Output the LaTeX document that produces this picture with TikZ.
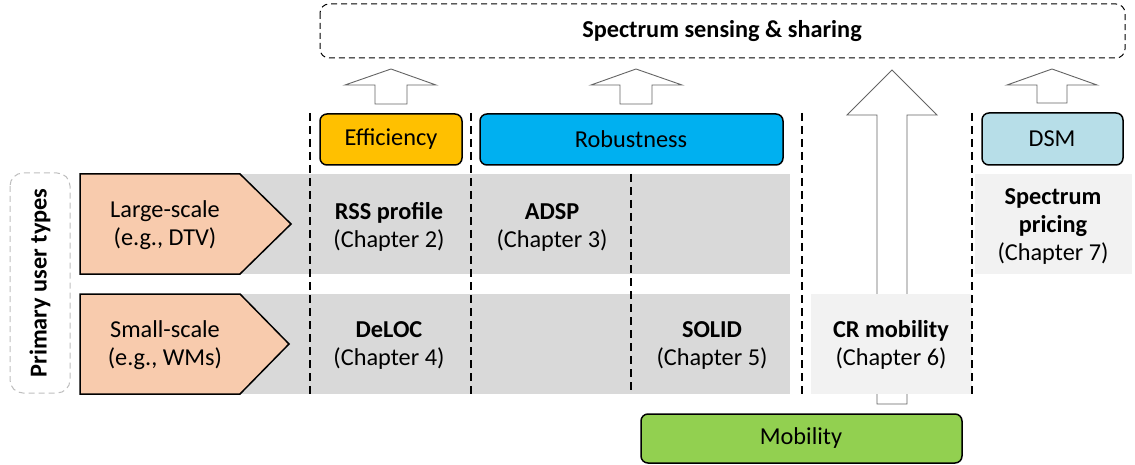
\documentclass[tikz,border=0pt]{standalone}
\usepackage{fontspec}
\setmainfont{Carlito}
\definecolor{bandgray}{RGB}{217,217,217}
\definecolor{lightband}{RGB}{242,242,242}
\definecolor{effcol}{RGB}{255,192,0}
\definecolor{robcol}{RGB}{0,176,240}
\definecolor{dsmcol}{RGB}{183,222,232}
\definecolor{mobcol}{RGB}{146,208,80}
\definecolor{peach}{RGB}{248,203,173}
\definecolor{arrowgray}{RGB}{100,100,100}
\begin{document}
\begin{tikzpicture}[x=1pt,y=-1pt,
  every node/.style={font=\fontsize{24.3}{28}\selectfont, align=center, inner sep=0pt},
  catbox/.style={draw=black, line width=1.5pt, rounded corners=7pt},
  divider/.style={draw=black, line width=1.3pt, dash pattern=on 8pt off 5pt},
  blockarrow/.style={draw=arrowgray, fill=white, line width=0.9pt},
  pentagon/.style={draw=black, line width=1.5pt, fill=peach}]
\useasboundingbox (0,0) rectangle (1135,465);

% top dashed box
\draw[line width=1pt, dash pattern=on 6pt off 4pt, rounded corners=9pt] (320,4) rectangle (1125,58);
\node[font=\fontsize{24.3}{28}\selectfont\bfseries] (top) at (722,31) {Spectrum sensing \& sharing};

% gray bands
\fill[bandgray] (240,174) rectangle (790,274);
\fill[bandgray] (240,294) rectangle (790,394);
\fill[lightband] (975,174) rectangle (1132,274);

% block arrows
\draw[blockarrow] (375,104) -- (375,85) -- (345,85) -- (391,69) -- (436,85) -- (407,85) -- (407,104) -- cycle;
\draw[blockarrow] (620,104) -- (620,85) -- (591,85) -- (636,69) -- (682,85) -- (652,85) -- (652,104) -- cycle;
\draw[blockarrow] (877,404) -- (877,115) -- (847,115) -- (892,70) -- (937,115) -- (907,115) -- (907,404) -- cycle;
\draw[blockarrow] (1037,103) -- (1037,85) -- (1007,85) -- (1052,69) -- (1097,85) -- (1067,85) -- (1067,103) -- cycle;

\fill[lightband] (811,294) rectangle (972,394);

% dividers
\draw[divider] (310,113) -- (310,394);
\draw[divider] (471,113) -- (471,394);
\draw[divider] (631,174) -- (631,394);
\draw[divider] (802,113) -- (802,394);
\draw[divider] (972,113) -- (972,394);

% category boxes
\draw[catbox, fill=effcol] (320,114) rectangle (462,165);
\node (eff) at (391,139.5) {Efficiency};
\draw[catbox, fill=robcol] (480,114) rectangle (783,165);
\node (rob) at (631,139.5) {Robustness};
\draw[catbox, fill=dsmcol] (982,113) rectangle (1123,165);
\node (dsm) at (1052,139) {DSM};
\draw[catbox, fill=mobcol] (641,414) rectangle (962,463);
\node (mob) at (801,438.5) {Mobility};

% left side
\draw[draw=black!25, line width=1pt, dash pattern=on 6pt off 4pt, rounded corners=13pt] (10,173) rectangle (70,393);
\node[rotate=90, font=\fontsize{24.3}{28}\selectfont\bfseries] (put) at (40,283) {Primary user types};
\draw[pentagon] (80,174) -- (240,174) -- (291,224) -- (240,274) -- (80,274) -- cycle;
\node (large) at (165,225) {Large-scale\\(e.g., DTV)};
\draw[pentagon] (80,294) -- (240,294) -- (289,344) -- (240,394) -- (80,394) -- cycle;
\node (small) at (165,345) {Small-scale\\(e.g., WMs)};

% chapter texts
\node (rss) at (389,227) {\textbf{RSS profile}\\(Chapter 2)};
\node (adsp) at (552,227) {\textbf{ADSP}\\(Chapter 3)};
\node (deloc) at (389,345) {\textbf{DeLOC}\\(Chapter 4)};
\node (solid) at (712,345) {\textbf{SOLID}\\(Chapter 5)};
\node (crm) at (891,345) {\textbf{CR mobility}\\(Chapter 6)};
\node (price) at (1053,226) {\textbf{Spectrum}\\\textbf{pricing}\\(Chapter 7)};
\end{tikzpicture}
\end{document}
